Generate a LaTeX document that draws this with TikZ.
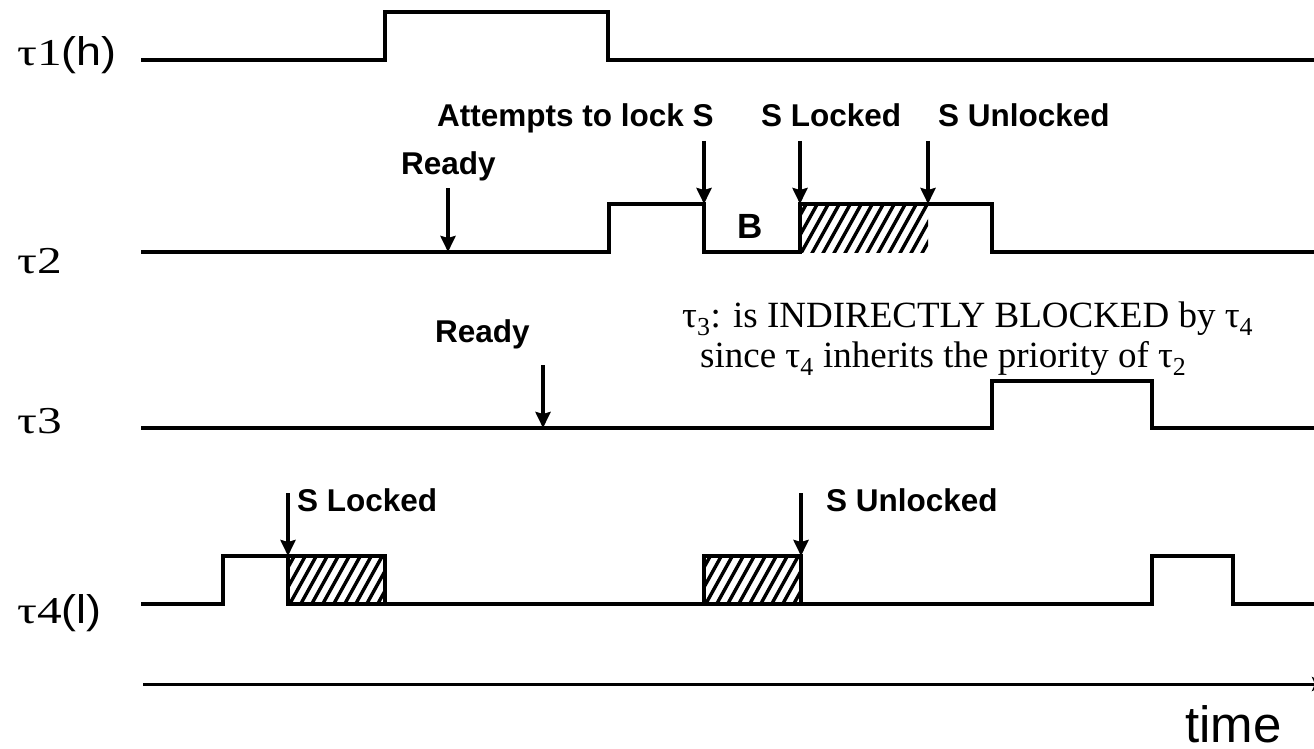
\documentclass[tikz,border=0pt]{standalone}
\usepackage{fontspec}
\setmainfont{Liberation Serif}
\setsansfont{Liberation Sans}
\usetikzlibrary{arrows.meta}

% diagonal hatching inside a rectangle: left, top, right, bottom
\newcommand\hatchfill[4]{%
  \begin{scope}
    \clip (#1,#2) rectangle (#3,#4);
    \foreach \k in {-3,...,13}
      \draw[hatchline] ({#1+\k*11},{#4+3}) -- ++(30,-54);
  \end{scope}}
% task names are set wide
\newcommand\widename[1]{\scalebox{1.3}[1]{#1}}
\newcommand\prio[1]{\scalebox{1.12}[1]{\sffamily\fontsize{40}{44}\selectfont(#1)}}

\begin{document}
\begin{tikzpicture}[x=1pt,y=-1pt,
  wave/.style={line width=3.4pt, line join=miter, line cap=rect},
  hatchline/.style={line width=3.4pt},
  lockbox/.style={line width=3.2pt},
  evarrow/.style={line width=3.8pt, -{Stealth[length=16pt,width=15pt,inset=2pt]}},
  axisline/.style={line width=3pt, -{Stealth[length=16pt,width=14pt,inset=3pt]}},
  tasklabel/.style={anchor=base west, inner sep=0pt, font=\fontsize{38}{42}\selectfont},
  evlabel/.style={anchor=base west, inner sep=0pt, font=\sffamily\bfseries\fontsize{31.5}{36}\selectfont},
  note/.style={anchor=base west, inner sep=0pt, font=\fontsize{37}{42}\selectfont}]

\useasboundingbox (0,0) rectangle (1314,749);
\clip (0,0) rectangle (1314,749);

% task names
\node[tasklabel] (t1) at (17,66) {\widename{τ1}\prio{h}};
\node[tasklabel] (t2) at (17,273) {\widename{τ2}};
\node[tasklabel] (t3) at (17,433) {\widename{τ3}};
\node[tasklabel] (t4) at (17,623) {\widename{τ4}\prio{l}};

% tau1 (high priority)
\draw[wave] (143,60) -- (385,60) -- (385,12) -- (608,12) -- (608,60) -- (1320,60);

% tau2
\hatchfill{800}{204}{928}{252}
\draw[wave] (143,252) -- (609,252) -- (609,204) -- (704,204) -- (704,252)
  -- (800,252) -- (800,204) -- (992,204) -- (992,252) -- (1320,252);
\node[anchor=base, inner sep=0pt, font=\sffamily\bfseries\fontsize{35}{40}\selectfont] (blk) at (750,238) {B};

% tau3
\draw[wave] (143,428) -- (992,428) -- (992,381) -- (1152,381) -- (1152,428) -- (1320,428);

% tau4 (low priority)
\hatchfill{288}{556}{385}{604}
\hatchfill{704}{556}{801}{604}
\draw[lockbox] (288,556) rectangle (385,604);
\draw[lockbox] (704,556) rectangle (801,604);
\draw[wave] (143,604) -- (223,604) -- (223,556) -- (288,556);
\draw[wave] (385,604) -- (704,604);
\draw[wave] (801,604) -- (1152,604) -- (1152,556) -- (1233,556) -- (1233,604) -- (1320,604);

% time axis
\coordinate (ax0) at (143,684);
\coordinate (ax1) at (1328,684);
\draw[axisline] (ax0) -- (ax1);
\node[anchor=base west, inner sep=0pt, text depth=0pt, font=\sffamily\fontsize{51}{56}\selectfont] (time) at (1185,742) {time};

% event labels
\node[evlabel] (att) at (437,127) {Attempts to lock S};
\node[evlabel] (lk2) at (761,127) {S Locked};
\node[evlabel] (ul2) at (938,127) {S Unlocked};
\node[evlabel] (rd2) at (401,175) {Ready};
\node[evlabel] (rd3) at (435,342) {Ready};
\node[evlabel] (lk4) at (297,511) {S Locked};
\node[evlabel] (ul4) at (826,511) {S Unlocked};

% event arrows
\coordinate (rd2a) at (448,188);  \coordinate (rd2b) at (448,252);
\coordinate (atta) at (704,141);  \coordinate (attb) at (704,204);
\coordinate (lk2a) at (800,141);  \coordinate (lk2b) at (800,204);
\coordinate (ul2a) at (928,141);  \coordinate (ul2b) at (928,204);
\coordinate (rd3a) at (543,365);  \coordinate (rd3b) at (543,428);
\coordinate (lk4a) at (288,493);  \coordinate (lk4b) at (288,556);
\coordinate (ul4a) at (801,493);  \coordinate (ul4b) at (801,556);
\draw[evarrow] (rd2a) -- (rd2b);
\draw[evarrow] (atta) -- (attb);
\draw[evarrow] (lk2a) -- (lk2b);
\draw[evarrow] (ul2a) -- (ul2b);
\draw[evarrow] (rd3a) -- (rd3b);
\draw[evarrow] (lk4a) -- (lk4b);
\draw[evarrow] (ul4a) -- (ul4b);

% explanation
\node[note] (n1) at (682,327) {τ\textsubscript{3}: is INDIRECTLY BLOCKED by τ\textsubscript{4}};
\node[note] (n2) at (700,367) {since τ\textsubscript{4} inherits the priority of τ\textsubscript{2}};

\end{tikzpicture}
\end{document}
